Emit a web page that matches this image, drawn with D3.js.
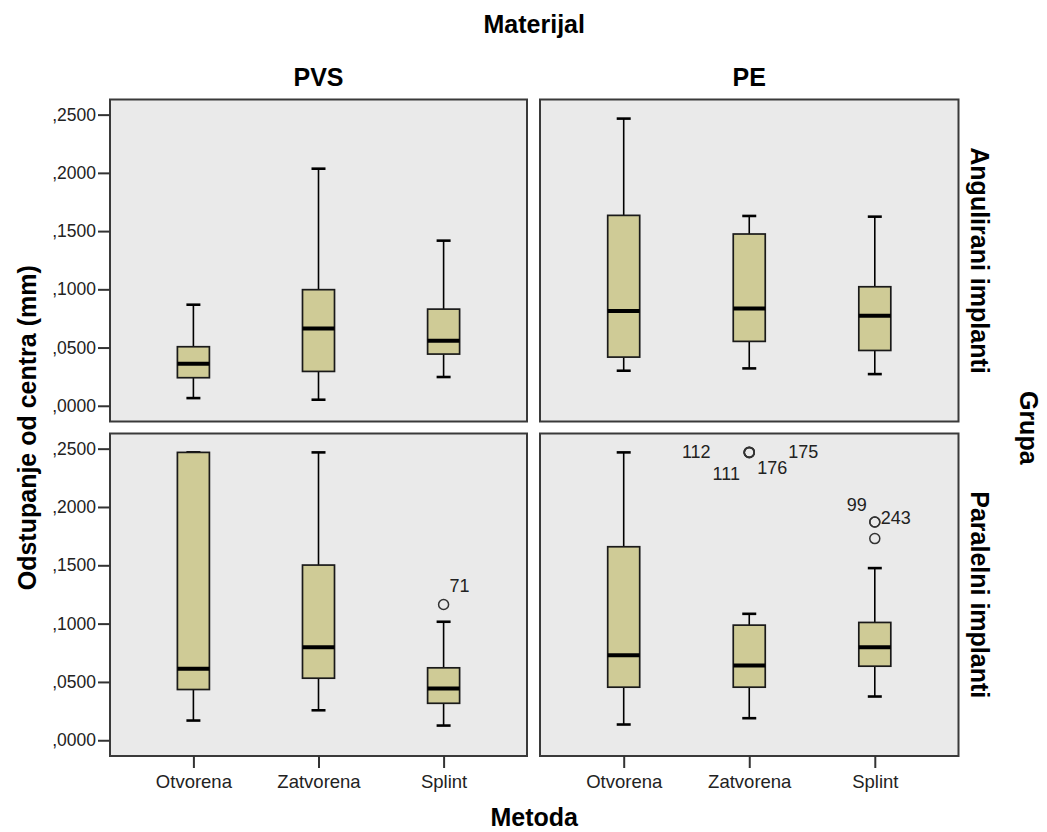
<!DOCTYPE html>
<html>
<head>
<meta charset="utf-8">
<script src="https://cdn.jsdelivr.net/npm/d3@7"></script>
<style>
  html, body { margin: 0; padding: 0; background: #ffffff; }
  svg { display: block; }
  text { font-family: "Liberation Sans", Arial, sans-serif; }
</style>
</head>
<body>
<script>
// ---- data ----
const metode = ["Otvorena", "Zatvorena", "Splint"];
const materijali = ["PVS", "PE"];
const grupe = ["Angulirani implanti", "Paralelni implanti"];

const yTicks = [0, 0.05, 0.10, 0.15, 0.20, 0.25];
const yTickLabels = [",0000", ",0500", ",1000", ",1500", ",2000", ",2500"];

// [lower whisker, Q1, median, Q3, upper whisker] for each metoda
const anguliraniPVS = [
  [0.0066, 0.0241, 0.0361, 0.0507, 0.0868],
  [0.0052, 0.0295, 0.0664, 0.0997, 0.2036],
  [0.0247, 0.0444, 0.0558, 0.0830, 0.1418]
];
const anguliraniPE = [
  [0.0301, 0.0418, 0.0813, 0.1635, 0.2466],
  [0.0321, 0.0553, 0.0836, 0.1475, 0.1630],
  [0.0272, 0.0475, 0.0773, 0.1022, 0.1624]
];
const paralelniPVS = [
  [0.0169, 0.0435, 0.0612, 0.2468, 0.2468],
  [0.0257, 0.0532, 0.0798, 0.1502, 0.2468],
  [0.0126, 0.0317, 0.0444, 0.0621, 0.1016]
];
const paralelniPE = [
  [0.0135, 0.0455, 0.0729, 0.1659, 0.2468],
  [0.0189, 0.0455, 0.0641, 0.0987, 0.1084],
  [0.0375, 0.0635, 0.0798, 0.1010, 0.1476]
];

// outlying cases: metoda, value, case number
const paralelniPVSOutliers = [
  { metoda: "Splint", value: 0.1164, id: "71" }
];
const paralelniPEOutliers = [
  { metoda: "Zatvorena", value: 0.2468, id: "112" },
  { metoda: "Zatvorena", value: 0.2470, id: "111" },
  { metoda: "Zatvorena", value: 0.2466, id: "176" },
  { metoda: "Zatvorena", value: 0.2469, id: "175" },
  { metoda: "Splint", value: 0.1871, id: "99" },
  { metoda: "Splint", value: 0.1871, id: "243" },
  { metoda: "Splint", value: 0.1729, id: "" }
];

// ---- layout ----
const W = 1047, H = 832;
const cols = [{ x: 110, w: 417 }, { x: 540, w: 418.5 }];
const rows = [{ y: 99.5, h: 322 }, { y: 433.5, h: 322.5 }];
const yDomain = [-0.0135, 0.263];
const boxW = 32, capW = 14;
const boxFill = "#cfcb96";
const panelFill = "#eaeaea";

// where each case label sits relative to its point
const labelOffsets = {
  "71": [16, -18],
  "112": [-53, 0],
  "111": [-23, 22],
  "176": [23, 15],
  "175": [54, 0],
  "99": [-18, -17],
  "243": [21, -4]
};

const panels = [
  { row: 0, col: 0, stats: anguliraniPVS, outliers: [] },
  { row: 0, col: 1, stats: anguliraniPE, outliers: [] },
  { row: 1, col: 0, stats: paralelniPVS, outliers: paralelniPVSOutliers },
  { row: 1, col: 1, stats: paralelniPE, outliers: paralelniPEOutliers }
];

const svg = d3.select("body").append("svg")
  .attr("width", W).attr("height", H);

panels.forEach(p => {
  const c = cols[p.col], r = rows[p.row];
  const x = d3.scalePoint().domain(metode).range([0, c.w]).padding(2 / 3);
  const y = d3.scaleLinear().domain(yDomain).range([r.h, 0]);
  const g = svg.append("g").attr("transform", `translate(${c.x},${r.y})`);

  g.append("rect")
    .attr("width", c.w).attr("height", r.h)
    .attr("fill", panelFill);

  const box = g.selectAll("g.box").data(p.stats).join("g")
    .attr("class", "box")
    .attr("transform", (d, i) => `translate(${x(metode[i])},0)`);

  // whiskers
  box.append("line")
    .attr("y1", d => y(d[0])).attr("y2", d => y(d[1]))
    .attr("stroke", "#000").attr("stroke-width", 1.6);
  box.append("line")
    .attr("y1", d => y(d[3])).attr("y2", d => y(d[4]))
    .attr("stroke", "#000").attr("stroke-width", 1.6);
  // caps
  box.append("line")
    .attr("x1", -capW / 2).attr("x2", capW / 2)
    .attr("y1", d => y(d[0])).attr("y2", d => y(d[0]))
    .attr("stroke", "#000").attr("stroke-width", 2.6);
  box.append("line")
    .attr("x1", -capW / 2).attr("x2", capW / 2)
    .attr("y1", d => y(d[4])).attr("y2", d => y(d[4]))
    .attr("stroke", "#000").attr("stroke-width", 2.6);
  // interquartile box
  box.append("rect")
    .attr("x", -boxW / 2).attr("width", boxW)
    .attr("y", d => y(d[3])).attr("height", d => y(d[1]) - y(d[3]))
    .attr("fill", boxFill).attr("stroke", "#1a1a1a").attr("stroke-width", 1.7);
  // median
  box.append("line")
    .attr("x1", -boxW / 2).attr("x2", boxW / 2)
    .attr("y1", d => y(d[2])).attr("y2", d => y(d[2]))
    .attr("stroke", "#000").attr("stroke-width", 4);

  // outliers
  g.selectAll("circle.out").data(p.outliers).join("circle")
    .attr("class", "out")
    .attr("cx", d => x(d.metoda)).attr("cy", d => y(d.value))
    .attr("r", 5)
    .attr("fill", "none").attr("stroke", "#333").attr("stroke-width", 1.5);
  g.selectAll("text.case").data(p.outliers.filter(d => d.id)).join("text")
    .attr("class", "case")
    .attr("x", d => x(d.metoda) + labelOffsets[d.id][0])
    .attr("y", d => y(d.value) + labelOffsets[d.id][1])
    .attr("text-anchor", "middle").attr("dominant-baseline", "central")
    .attr("font-size", 18).attr("fill", "#222")
    .text(d => d.id);

  // frame
  g.append("rect")
    .attr("width", c.w).attr("height", r.h)
    .attr("fill", "none").attr("stroke", "#3a3a3a").attr("stroke-width", 2);

  // value axis on the left column
  if (p.col === 0) {
    const ax = g.append("g")
      .call(d3.axisLeft(y).tickValues(yTicks)
        .tickFormat((d, i) => yTickLabels[i])
        .tickSize(12).tickPadding(2));
    ax.select(".domain").remove();
    ax.selectAll("line").attr("stroke", "#333").attr("stroke-width", 2);
    ax.selectAll("text").attr("font-size", 17.5).attr("fill", "#222")
      .attr("font-family", "'Liberation Sans', Arial, sans-serif");
  }
  // category axis on the bottom row
  if (p.row === 1) {
    const ax = g.append("g").attr("transform", `translate(0,${r.h})`)
      .call(d3.axisBottom(x).tickSize(12).tickPadding(7));
    ax.select(".domain").remove();
    ax.selectAll("line").attr("stroke", "#333").attr("stroke-width", 2);
    ax.selectAll("text").attr("font-size", 18.5).attr("fill", "#222")
      .attr("font-family", "'Liberation Sans', Arial, sans-serif");
  }
});

// ---- titles and strip labels ----
const bold = sel => sel.attr("font-weight", "bold").attr("font-size", 25).attr("fill", "#000");

svg.append("text").call(bold)
  .attr("x", (cols[0].x + cols[1].x + cols[1].w) / 2).attr("y", 33)
  .attr("text-anchor", "middle").text("Materijal");

materijali.forEach((m, i) => {
  svg.append("text").call(bold)
    .attr("x", cols[i].x + cols[i].w / 2).attr("y", 86)
    .attr("text-anchor", "middle").text(m);
});

grupe.forEach((gname, i) => {
  const cy = rows[i].y + rows[i].h / 2;
  svg.append("text").call(bold)
    .attr("transform", `translate(980,${cy}) rotate(90)`)
    .attr("text-anchor", "middle").attr("dominant-baseline", "central")
    .text(gname);
});

svg.append("text").call(bold)
  .attr("transform", `translate(1029,${(rows[0].y + rows[1].y + rows[1].h) / 2}) rotate(90)`)
  .attr("text-anchor", "middle").attr("dominant-baseline", "central")
  .text("Grupa");

svg.append("text").call(bold)
  .attr("transform", `translate(27,${(rows[0].y + rows[1].y + rows[1].h) / 2}) rotate(-90)`)
  .attr("text-anchor", "middle").attr("dominant-baseline", "central")
  .text("Odstupanje od centra (mm)");

svg.append("text").call(bold)
  .attr("x", (cols[0].x + cols[1].x + cols[1].w) / 2).attr("y", 826)
  .attr("text-anchor", "middle").text("Metoda");
</script>
</body>
</html>
